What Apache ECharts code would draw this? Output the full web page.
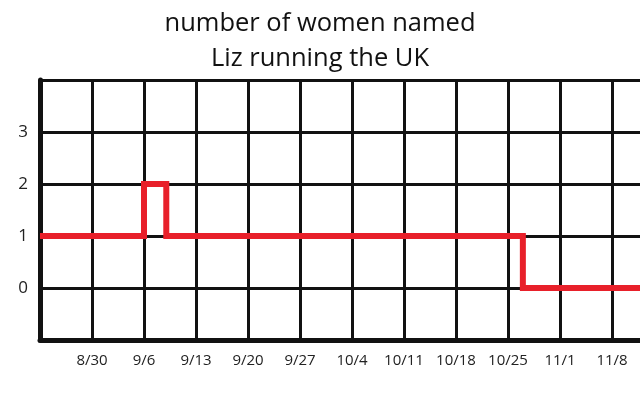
<!DOCTYPE html>
<html>
<head>
<meta charset="utf-8">
<script src="https://cdn.jsdelivr.net/npm/echarts@6/dist/echarts.min.js"></script>
<style>
  html, body { margin: 0; padding: 0; background: #fff; }
  #chart { width: 640px; height: 404px; }
</style>
</head>
<body>
<div id="chart"></div>
<script>
// x values are days counted from 8/23 (the left edge of the grid)
const weekLabels = ['8/23', '8/30', '9/6', '9/13', '9/20', '9/27', '10/4', '10/11', '10/18', '10/25', '11/1', '11/8', '11/15'];
const changeDays = [0, 14, 17, 65, 84];
const lizCounts = [1, 2, 1, 0, 0];
const yTicks = [0, 1, 2, 3];

const chart = echarts.init(document.getElementById('chart'));

chart.setOption({
  animation: false,
  title: {
    text: 'number of women named\nLiz running the UK',
    left: 'center',
    top: 1,
    textStyle: { fontFamily: 'Open Sans', fontSize: 25.5, fontWeight: 'normal', color: '#111', lineHeight: 35 }
  },
  // grid runs past the right edge of the canvas, like the cropped original
  grid: { left: 40, top: 80, height: 260, width: 624, outerBoundsMode: 'none', containLabel: false },
  xAxis: {
    type: 'value',
    min: 0, max: 84, interval: 7,
    axisLine: { onZero: false, lineStyle: { color: '#111', width: 5, cap: 'round' } },
    axisTick: { show: false },
    splitLine: { lineStyle: { color: '#111', width: 3 } },
    axisLabel: {
      showMinLabel: false,
      showMaxLabel: false,
      margin: 13,
      fontFamily: 'Open Sans', fontSize: 15, color: '#222',
      formatter: v => weekLabels[Math.round(v / 7)] || ''
    }
  },
  yAxis: {
    type: 'value',
    min: -1, max: 4, interval: 1,
    axisLine: { show: true, lineStyle: { color: '#111', width: 5, cap: 'round' } },
    axisTick: { show: false },
    splitLine: { lineStyle: { color: '#111', width: 3 } },
    axisLabel: {
      margin: 12,
      fontFamily: 'Open Sans', fontSize: 17, color: '#222',
      formatter: v => yTicks.includes(v) ? String(v) : ''
    }
  },
  series: [{
    type: 'line',
    step: 'end',
    data: changeDays.map((d, i) => [d, lizCounts[i]]),
    showSymbol: false,
    lineStyle: { color: '#e8202a', width: 6, join: 'miter' },
    z: 5
  }]
});
</script>
</body>
</html>
